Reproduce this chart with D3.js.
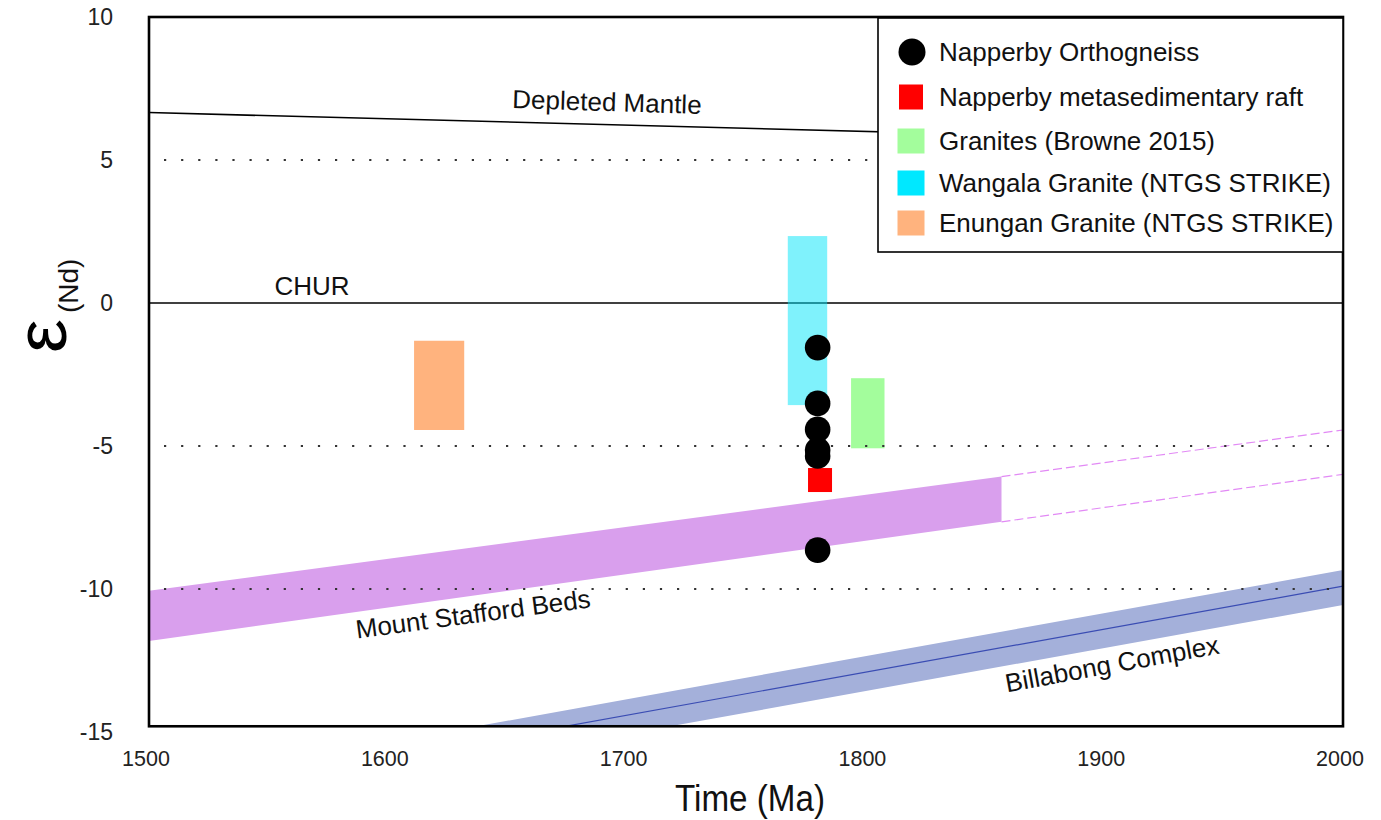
<!DOCTYPE html>
<html><head>
<meta charset="utf-8">
<script src="https://d3js.org/d3.v7.min.js"></script>
<style>
  body { margin: 0; background: #fff; }
  svg text { font-family: "Liberation Sans", Arial, sans-serif; }
</style>
</head>
<body>
<div id="container"></div>
<script>
// ---- data ----
const ageTicks = [1500, 1600, 1700, 1800, 1900, 2000];
const epsTicks = [10, 5, 0, -5, -10, -15];
const dottedEps = [5, -5, -10];

const dmAge = [1500, 2000];
const dmEps = [6.66, 5.56];
const churEps = 0;

const orthoAge = [1780, 1780, 1780, 1780, 1780, 1780];
const orthoEps = [-1.56, -3.51, -4.42, -5.14, -5.35, -8.64];
const raftAge = [1781];
const raftEps = [-6.19];

const boxNames = ["Granites (Browne 2015)", "Wangala Granite (NTGS STRIKE)", "Enungan Granite (NTGS STRIKE)"];
const boxAge = [[1794, 1808], [1767.5, 1784], [1611, 1632]];
const boxEps = [[-5.08, -2.63], [-3.57, 2.34], [-4.44, -1.32]];

const msAge = [1500, 1857];
const msTop = [-10.06, -6.07];
const msBot = [-11.82, -7.65];
const msExtAge = [1857, 2000];
const msExtTop = [-6.07, -4.44];
const msExtBot = [-7.65, -5.99];

const bbAge = [1600, 2000];
const bbMid = [-15.92, -9.9];
const bbTop = [-15.36, -9.34];
const bbBot = [-16.58, -10.56];

const legendNames = ["Napperby Orthogneiss", "Napperby metasedimentary raft",
  "Granites (Browne 2015)", "Wangala Granite (NTGS STRIKE)", "Enungan Granite (NTGS STRIKE)"];

// ---- layout ----
const width = 1381, height = 820;
const svg = d3.select("#container").append("svg")
  .attr("width", width).attr("height", height);

const x = d3.scaleLinear().domain([1500, 2000]).range([149, 1343]);
const y = d3.scaleLinear().domain([-15, 10]).range([732, 17]);
const yFloor = -14.8;   // where the frame bottom sits

const colors = {
  ortho: "#000", raft: "#ff0000", browne: "#a3fd9c", wangala: "#00e6fa",
  wangalaLegend: "#00e8ff", enungan: "#ffb37e", ms: "#d99fed", msDash: "#e28af5",
  bb: "#a4b0da", bbLine: "#3a4cb3"
};
const boxFill = [colors.browne, colors.wangala, colors.enungan];
const boxOpacity = [1, 0.5, 1];

svg.append("clipPath").attr("id", "plotclip").append("rect")
  .attr("x", x(1500)).attr("y", y(10))
  .attr("width", x(2000) - x(1500)).attr("height", y(yFloor) - y(10));

const plot = svg.append("g").attr("clip-path", "url(#plotclip)");

// Mount Stafford Beds band
const band = (ages, top, bot) => {
  const pts = ages.map((a, i) => [x(a), y(top[i])]);
  const lower = ages.map((a, i) => [x(a), y(bot[i])]).reverse();
  return "M" + pts.concat(lower).join("L") + "Z";
};
plot.append("path").attr("d", band(msAge, msTop, msBot)).attr("fill", colors.ms);
[msExtTop, msExtBot].forEach(v => {
  plot.append("path")
    .attr("d", d3.line()(msExtAge.map((a, i) => [x(a), y(v[i])])))
    .attr("fill", "none").attr("stroke", colors.msDash)
    .attr("stroke-width", 1.2).attr("stroke-dasharray", "9,4");
});

// Billabong Complex band
plot.append("path").attr("d", band(bbAge, bbTop, bbBot)).attr("fill", colors.bb);
plot.append("path")
  .attr("d", d3.line()(bbAge.map((a, i) => [x(a), y(bbMid[i])])))
  .attr("fill", "none").attr("stroke", colors.bbLine).attr("stroke-width", 1.2);

// Depleted mantle + CHUR
plot.append("path")
  .attr("d", d3.line()(dmAge.map((a, i) => [x(a), y(dmEps[i])])))
  .attr("fill", "none").attr("stroke", "#000").attr("stroke-width", 1.6);
plot.append("line")
  .attr("x1", x(1500)).attr("x2", x(2000)).attr("y1", y(churEps)).attr("y2", y(churEps))
  .attr("stroke", "#000").attr("stroke-width", 1.6);

// granite boxes
boxNames.forEach((n, i) => {
  plot.append("rect")
    .attr("x", x(boxAge[i][0])).attr("width", x(boxAge[i][1]) - x(boxAge[i][0]))
    .attr("y", y(boxEps[i][1])).attr("height", y(boxEps[i][0]) - y(boxEps[i][1]))
    .attr("fill", boxFill[i]).attr("fill-opacity", boxOpacity[i]);
});

// dotted reference lines
plot.selectAll("line.dot").data(dottedEps).join("line").attr("class", "dot")
  .attr("x1", x(1500)).attr("x2", x(2000))
  .attr("y1", d => y(d)).attr("y2", d => y(d))
  .attr("stroke", "#333").attr("stroke-width", 2.2)
  .attr("stroke-dasharray", "2.2,14.9").attr("stroke-dashoffset", -15);

// samples
plot.selectAll("rect.raft").data(raftAge).join("rect").attr("class", "raft")
  .attr("x", (d) => x(d) - 12).attr("y", (d, i) => y(raftEps[i]) - 12)
  .attr("width", 24).attr("height", 24).attr("fill", colors.raft);
plot.selectAll("circle.ortho").data(orthoAge).join("circle").attr("class", "ortho")
  .attr("cx", d => x(d)).attr("cy", (d, i) => y(orthoEps[i]))
  .attr("r", 12.8).attr("fill", colors.ortho);

// labels on curves
const label = (txt, px, py, ang) => svg.append("text")
  .attr("transform", `translate(${px},${py}) rotate(${ang})`)
  .attr("text-anchor", "middle").attr("dominant-baseline", "central")
  .attr("font-size", 26).attr("fill", "#111").text(txt);
label("Depleted Mantle", 607, 102, 1.8);
label("CHUR", 312, 286, 0);
label("Mount Stafford Beds", 473, 614, -7.6);
label("Billabong Complex", 1112, 664, -10.4);

// frame
svg.append("rect")
  .attr("x", x(1500)).attr("y", y(10))
  .attr("width", x(2000) - x(1500)).attr("height", y(yFloor) - y(10))
  .attr("fill", "none").attr("stroke", "#000").attr("stroke-width", 2.6);

// tick labels (no tick marks in the original)
svg.selectAll("text.xt").data(ageTicks).join("text").attr("class", "xt")
  .attr("x", d => x(d) - 3).attr("y", 766)
  .attr("text-anchor", "middle").attr("font-size", 21.5).attr("fill", "#222")
  .text(d => d);
svg.selectAll("text.yt").data(epsTicks).join("text").attr("class", "yt")
  .attr("x", 113).attr("y", d => y(d) + 8)
  .attr("text-anchor", "end").attr("font-size", 23).attr("fill", "#222")
  .text(d => d);

// axis titles
svg.append("text").attr("x", 750).attr("y", 811)
  .attr("text-anchor", "middle").attr("font-size", 36)
  .attr("textLength", 150).attr("lengthAdjust", "spacingAndGlyphs")
  .attr("fill", "#111").text("Time (Ma)");

const yTitle = svg.append("g").attr("transform", "translate(66,353) rotate(-90)");
yTitle.append("text").attr("x", 0).attr("y", 0)
  .attr("font-size", 72).attr("textLength", 34).attr("lengthAdjust", "spacingAndGlyphs")
  .attr("fill", "#000").text("ε");
yTitle.append("text").attr("x", 40).attr("y", 12)
  .attr("font-size", 28).attr("fill", "#111").text("(Nd)");

// legend
const lg = svg.append("g");
lg.append("rect").attr("x", 878).attr("y", 18).attr("width", 465).attr("height", 234)
  .attr("fill", "#fff").attr("stroke", "#000").attr("stroke-width", 1.6);
const rowY = [52, 97, 141, 183, 223];
const legendFill = [colors.ortho, colors.raft, colors.browne, colors.wangalaLegend, colors.enungan];
legendNames.forEach((n, i) => {
  if (i === 0) {
    lg.append("circle").attr("cx", 912).attr("cy", rowY[i]).attr("r", 13.5).attr("fill", legendFill[i]);
  } else {
    const w = i === 1 ? 24 : 27;
    lg.append("rect").attr("x", 911 - w / 2).attr("y", rowY[i] - 12.5)
      .attr("width", w).attr("height", 25).attr("fill", legendFill[i]);
  }
  lg.append("text").attr("x", 939).attr("y", rowY[i] + 9)
    .attr("font-size", 26).attr("fill", "#111").text(n);
});
</script>
</body>
</html>
